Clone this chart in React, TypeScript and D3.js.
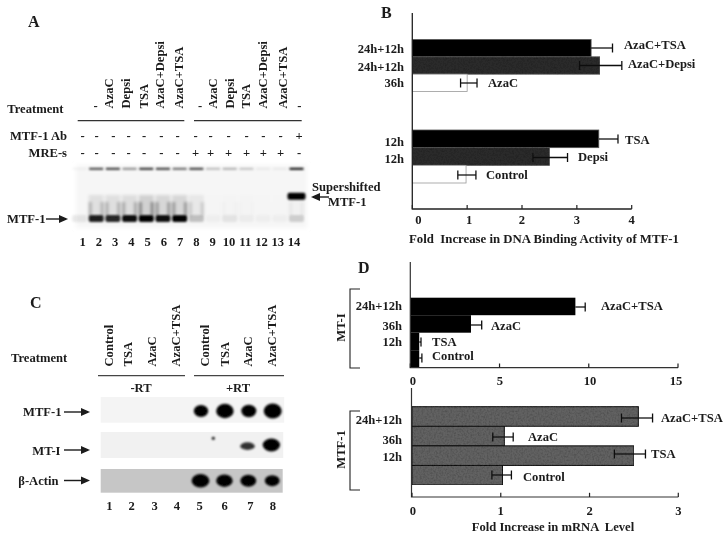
import React from "react";
import * as d3 from "d3";

// ---------- data ----------
const gelATreatments = ["-", "AzaC", "Depsi", "TSA", "AzaC+Depsi", "AzaC+TSA", "-", "AzaC", "Depsi", "TSA", "AzaC+Depsi", "AzaC+TSA", "-"];
const gelAAb = ["-", "-", "-", "-", "-", "-", "-", "-", "-", "-", "-", "-", "-", "+"];
const gelAMre = ["-", "-", "-", "-", "-", "-", "-", "+", "+", "+", "+", "+", "+", "-"];
const gelALanes = d3.range(1, 15);
const gelATopBand = [0.04, 0.75, 0.8, 0.45, 0.85, 0.8, 0.6, 0.8, 0.25, 0.3, 0.22, 0.06, 0.06, 1];
const gelAMainBand = [0.08, 0.88, 0.85, 0.95, 1, 0.95, 1, 0.22, 0.03, 0.08, 0.04, 0.03, 0.03, 0.16];
const gelASmear = [0, 0.3, 0.32, 0.34, 0.5, 0.42, 0.42, 0.2, 0.01, 0.03, 0.02, 0.01, 0.01, 0.06];
const gelASuper = [0, 0, 0, 0, 0, 0, 0, 0, 0, 0, 0, 0, 0, 1];

const gelCTreatments = ["Control", "TSA", "AzaC", "AzaC+TSA", "Control", "TSA", "AzaC", "AzaC+TSA"];
const gelCLanes = d3.range(1, 9);
const gelCMtf1 = [0, 0, 0, 0, 0.75, 1.05, 0.8, 1.1];
const gelCMt1 = [0, 0, 0, 0, 0, 0, 0.55, 1];
const gelCActin = [0, 0, 0, 0, 1.05, 0.95, 0.9, 0.82];

const panelBUpper = [
  { name: "AzaC+TSA", time: "24h+12h", v: 3.26, lo: 3.26, hi: 3.65 },
  { name: "AzaC+Depsi", time: "24h+12h", v: 3.42, lo: 3.05, hi: 3.82 },
  { name: "AzaC", time: "36h", v: 1.0, lo: 0.88, hi: 1.18 },
];
const panelBLower = [
  { name: "TSA", time: "12h", v: 3.4, lo: 3.4, hi: 3.75 },
  { name: "Depsi", time: "12h", v: 2.5, lo: 2.2, hi: 2.83 },
  { name: "Control", time: "", v: 0.98, lo: 0.83, hi: 1.16 },
];
const panelBTicks = [0, 1, 2, 3, 4];

const panelDTop = [
  { name: "AzaC+TSA", time: "24h+12h", v: 9.25, lo: 9.25, hi: 9.8 },
  { name: "AzaC", time: "36h", v: 3.4, lo: 3.4, hi: 4.0 },
  { name: "TSA", time: "12h", v: 0.5, lo: 0.5, hi: 0.6 },
  { name: "Control", time: "", v: 0.5, lo: 0.5, hi: 0.65 },
];
const panelDTopTicks = [0, 5, 10, 15];
const panelDBottom = [
  { name: "AzaC+TSA", time: "24h+12h", v: 2.55, lo: 2.36, hi: 2.71 },
  { name: "AzaC", time: "36h", v: 1.04, lo: 0.91, hi: 1.14 },
  { name: "TSA", time: "12h", v: 2.5, lo: 2.28, hi: 2.63 },
  { name: "Control", time: "", v: 1.02, lo: 0.9, hi: 1.12 },
];
const panelDBottomTicks = [0, 1, 2, 3];

// ---------- layout ----------
const FONT = "'Liberation Serif', 'Times New Roman', serif";
const INK = "#1a1a1a";

const T = ({ x, y, children, size = 12.6, anchor = "start", rotate, ...rest }: any) => (
  <text
    x={x}
    y={y}
    fontSize={size}
    fontWeight="bold"
    fontFamily={FONT}
    fill={INK}
    textAnchor={anchor}
    dominantBaseline="central"
    transform={rotate != null ? `rotate(${rotate} ${x} ${y})` : undefined}
    {...rest}
  >
    {children}
  </text>
);

const Arrow = ({ x1, x2, y }: any) => {
  const dir = x2 > x1 ? 1 : -1;
  return (
    <g>
      <line x1={x1} x2={x2 - dir * 6} y1={y} y2={y} stroke={INK} strokeWidth={1.4} />
      <path d={`M${x2},${y}L${x2 - dir * 9},${y - 4}L${x2 - dir * 9},${y + 4}Z`} fill={INK} />
    </g>
  );
};

const Rotated = ({ x, y, children }: any) => (
  <T x={x} y={y} rotate={-90} anchor="start">{children}</T>
);

function PanelA() {
  const lane = d3.scaleLinear().domain([1, 14]).range([82.7, 294]);
  const bandLane = d3.scaleLinear().domain([1, 14]).range([79.5, 296.5]);
  const signX = [82.7, 96.7, 113.3, 128.7, 144, 161.3, 177.7, 195.7, 210.7, 228.7, 246.7, 263.3, 280.7, 299];
  const headX = [95.7, 109.3, 126, 144, 160, 179, 200, 212.7, 230, 246, 262.7, 282.7, 299.3];
  return (
    <g>
      <T x={28} y={21} size={16}>A</T>
      {gelATreatments.map((t, i) =>
        t === "-" ? (
          <T key={i} x={headX[i]} y={106} anchor="middle">-</T>
        ) : (
          <Rotated key={i} x={headX[i]} y={108.5}>{t}</Rotated>
        )
      )}
      <T x={7.3} y={109}>Treatment</T>
      <line x1={77.7} x2={184.3} y1={120.7} y2={120.7} stroke="#333" strokeWidth={1.2} />
      <line x1={194} x2={301.7} y1={120.7} y2={120.7} stroke="#333" strokeWidth={1.2} />
      <T x={67} y={136} anchor="end">MTF-1 Ab</T>
      <T x={67} y={153} anchor="end">MRE-s</T>
      {gelAAb.map((s, i) => (
        <T key={i} x={signX[i]} y={136} anchor="middle">{s}</T>
      ))}
      {gelAMre.map((s, i) => (
        <T key={i} x={signX[i]} y={153} anchor="middle">{s}</T>
      ))}
      <rect x={76} y={165} width={231} height={63} fill="#f6f6f6" filter="url(#soft4)" />
      <g filter="url(#soft2)">
        {gelALanes.map((l, i) => {
          const c = bandLane(l);
          return (
            <g key={l} fill="#000">
              <rect x={c - 7.5} y={195} width={15} height={20} opacity={gelASmear[i] * 0.3} />
              <rect x={c - 7.5} y={202} width={3} height={14} opacity={gelASmear[i] * 0.75} />
              <rect x={c + 4.5} y={202} width={3} height={14} opacity={gelASmear[i] * 0.75} />
            </g>
          );
        })}
      </g>
      <g filter="url(#soft1)">
        {gelALanes.map((l, i) => {
          const c = bandLane(l);
          return (
            <g key={l} fill="#000">
              <rect x={c - 7} y={167.8} width={14} height={2} opacity={gelATopBand[i]} />
              <rect x={c - 7.5} y={215} width={15} height={7} rx={2} opacity={gelAMainBand[i]} />
              <rect x={c - 9} y={192.7} width={18} height={7} rx={2} opacity={gelASuper[i]} />
            </g>
          );
        })}
      </g>
      <T x={7} y={219}>MTF-1</T>
      <Arrow x1={46} x2={68} y={219} />
      <T x={312} y={187}>Supershifted</T>
      <T x={328} y={202}>MTF-1</T>
      <Arrow x1={329} x2={311} y={197} />
      {gelALanes.map((l) => (
        <T key={l} x={lane(l)} y={242} anchor="middle">{l}</T>
      ))}
    </g>
  );
}

function PanelC() {
  const lane = d3.scaleLinear().domain([5, 8]).range([201, 272.7]);
  const labelX = [109.3, 131.7, 154.7, 177, 199.7, 224.7, 250.3, 273];
  const headX = [109.3, 128.3, 152.3, 175.7, 205, 224.7, 248.3, 271.7];
  return (
    <g>
      <T x={30} y={302} size={16}>C</T>
      <T x={11} y={357.5}>Treatment</T>
      {gelCTreatments.map((t, i) => (
        <Rotated key={i} x={headX[i]} y={366.5}>{t}</Rotated>
      ))}
      <line x1={98} x2={185} y1={375.7} y2={375.7} stroke="#444" strokeWidth={1.2} />
      <line x1={194} x2={284} y1={375.7} y2={375.7} stroke="#444" strokeWidth={1.2} />
      <T x={141} y={388} anchor="middle">-RT</T>
      <T x={238} y={388} anchor="middle">+RT</T>
      <rect x={100.7} y={397} width={183.5} height={25.7} fill="#f4f4f4" />
      <rect x={100.7} y={432} width={182.5} height={26} fill="#f1f1f1" />
      <rect x={100.7} y={469} width={182} height={23.7} fill="#c6c6c6" />
      <g filter="url(#soft1)">
        {gelCLanes.map((l, i) =>
          gelCMtf1[i] > 0 ? (
            <ellipse key={l} cx={lane(l)} cy={411} rx={3.5 + 5 * gelCMtf1[i]} ry={3 + 4 * gelCMtf1[i]} fill="#000" />
          ) : null
        )}
        {gelCLanes.map((l, i) =>
          gelCMt1[i] > 0 ? (
            <ellipse key={l} cx={lane(l) - 1.3} cy={447.5 - 2.5 * gelCMt1[i]} rx={5.5 + 3.2 * gelCMt1[i]} ry={0.5 + 6 * gelCMt1[i]} fill="#000" opacity={0.55 + 0.45 * gelCMt1[i]} />
          ) : null
        )}
        {gelCLanes.map((l, i) =>
          gelCActin[i] > 0 ? (
            <ellipse key={l} cx={lane(l) - 0.5} cy={480.7} rx={2 + 6.6 * gelCActin[i]} ry={1 + 5.5 * gelCActin[i]} fill="#000" />
          ) : null
        )}
        <circle cx={213.3} cy={438.3} r={1.5} fill="#000" />
      </g>
      <T x={61.5} y={412} anchor="end">MTF-1</T>
      <Arrow x1={64} x2={90} y={412} />
      <T x={60.5} y={450.5} anchor="end">MT-I</T>
      <Arrow x1={64} x2={90} y={450} />
      <T x={58.5} y={480.5} anchor="end">β-Actin</T>
      <Arrow x1={64} x2={90} y={480.5} />
      {gelCLanes.map((l, i) => (
        <T key={l} x={labelX[i]} y={506} anchor="middle">{l}</T>
      ))}
    </g>
  );
}

const ErrBar = ({ x, d, y }: any) => (
  <g stroke="#111" strokeWidth={1.3} fill="none">
    <line x1={x(d.lo)} x2={x(d.hi)} y1={y} y2={y} />
    {d.lo !== d.v ? <line x1={x(d.lo)} x2={x(d.lo)} y1={y - 4.5} y2={y + 4.5} /> : null}
    <line x1={x(d.hi)} x2={x(d.hi)} y1={y - 4.5} y2={y + 4.5} />
  </g>
);

function PanelB() {
  const x = d3.scaleLinear().domain([0, 4]).range([412.3, 631.7]);
  const yU = d3.scaleBand().domain(panelBUpper.map((d) => d.name)).range([39.5, 91.5]);
  const yL = d3.scaleBand().domain(panelBLower.map((d) => d.name)).range([130, 183]);
  const fills = ["#000", "#2b2b2b", "#fff"];
  const strokes = ["#555", "#555", "#999"];
  const timeYU = [49, 67, 83];
  const timeYL = [142, 159];
  const labelPosU = [[624, 45], [628, 64], [488, 83]];
  const labelPosL = [[625, 140], [578, 157], [486, 175]];
  const errYU = [48, 65.5, 83];
  const errYL = [139, 157.5, 175];
  const tickOffset = [6, 2, 0, 0, 0];
  return (
    <g>
      <T x={381} y={12} size={16}>B</T>
      {[{ rows: panelBUpper, y: yU, ty: timeYU, lp: labelPosU, ey: errYU }, { rows: panelBLower, y: yL, ty: timeYL, lp: labelPosL, ey: errYL }].map((g, gi) => (
        <g key={gi}>
          {g.rows.map((d, i) => (
            <g key={d.name}>
              <rect x={x(0)} y={g.y(d.name)} width={x(d.v) - x(0)} height={g.y.bandwidth()} fill={fills[i]} stroke={strokes[i]} strokeWidth={0.8} filter={i === 1 ? "url(#grain)" : undefined} />
              <ErrBar x={x} d={d} y={g.ey[i]} />
              {d.time ? <T x={404} y={g.ty[i]} anchor="end">{d.time}</T> : null}
              <T x={g.lp[i][0]} y={g.lp[i][1]}>{d.name}</T>
            </g>
          ))}
        </g>
      ))}
      <path d={`M412.3,13V209H${x(4)}`} fill="none" stroke="#222" strokeWidth={1.3} />
      {panelBTicks.map((t, i) => (
        <g key={t}>
          <line x1={x(t)} x2={x(t)} y1={209} y2={205} stroke="#222" strokeWidth={1.2} />
          <T x={x(t) + tickOffset[i]} y={220} anchor="middle">{t}</T>
        </g>
      ))}
      <T x={544} y={239} anchor="middle" size={12.8} xmlSpace="preserve">Fold  Increase in DNA Binding Activity of MTF-1</T>
    </g>
  );
}

function Bracket({ y1, y2, label }: any) {
  return (
    <g>
      <path d={`M360,${y1}H350V${y2}H360`} fill="none" stroke="#222" strokeWidth={1.1} />
      <T x={341} y={(y1 + y2) / 2 - 1} rotate={-90} anchor="middle">{label}</T>
    </g>
  );
}

function PanelD() {
  const xT = d3.scaleLinear().domain([0, 15]).range([410.3, 678]);
  const yT = d3.scaleBand().domain(panelDTop.map((d) => d.name)).range([297.7, 367.7]);
  const xB = d3.scaleLinear().domain([0, 3]).range([412, 678.3]);
  const yB = d3.scaleBand().domain(panelDBottom.map((d) => d.name)).range([406.7, 485]);
  const topTimeY = [306, 326, 342];
  const topLabel = [[601, 306], [491, 326], [432, 342], [432, 356]];
  const topErrY = [307, 325, 342, 358];
  const topTickX = [413, 500, 590, 676];
  const botTimeY = [420, 440, 457];
  const botLabel = [[661, 418], [528, 437], [651, 454], [523, 477]];
  const botErrY = [418, 437, 454, 475];
  return (
    <g>
      <T x={358} y={267} size={16}>D</T>
      <Bracket y1={289} y2={368} label="MT-I" />
      {panelDTop.map((d, i) => (
        <g key={d.name}>
          <rect x={xT(0)} y={yT(d.name)} width={xT(d.v) - xT(0)} height={yT.bandwidth()} fill="#000" />
          <ErrBar x={xT} d={d} y={topErrY[i]} />
          {d.time ? <T x={402} y={topTimeY[i]} anchor="end">{d.time}</T> : null}
          <T x={topLabel[i][0]} y={topLabel[i][1]}>{d.name}</T>
        </g>
      ))}
      <path d={`M410.3,262V367.7H${xT(15)}`} fill="none" stroke="#333" strokeWidth={1.2} />
      {panelDTopTicks.map((t, i) => (
        <g key={t}>
          <line x1={xT(t)} x2={xT(t)} y1={367.7} y2={363.5} stroke="#222" strokeWidth={1.2} />
          <T x={topTickX[i]} y={381} anchor="middle">{t}</T>
        </g>
      ))}
      <Bracket y1={411} y2={490} label="MTF-1" />
      {panelDBottom.map((d, i) => (
        <g key={d.name}>
          <rect x={xB(0)} y={yB(d.name)} width={xB(d.v) - xB(0)} height={yB.bandwidth()} fill="#626262" stroke="#111" strokeWidth={1} filter="url(#grain)" />
          <ErrBar x={xB} d={d} y={botErrY[i]} />
          {d.time ? <T x={402} y={botTimeY[i]} anchor="end">{d.time}</T> : null}
          <T x={botLabel[i][0]} y={botLabel[i][1]}>{d.name}</T>
        </g>
      ))}
      <path d={`M411.5,388V497H${xB(3)}`} fill="none" stroke="#333" strokeWidth={1.2} />
      {panelDBottomTicks.map((t) => (
        <g key={t}>
          <line x1={xB(t)} x2={xB(t)} y1={497} y2={492.8} stroke="#222" strokeWidth={1.2} />
          <T x={xB(t) + (t === 0 ? 1 : 0)} y={511} anchor="middle">{t}</T>
        </g>
      ))}
      <T x={553} y={527} anchor="middle" xmlSpace="preserve">Fold Increase in mRNA  Level</T>
    </g>
  );
}

export default function App() {
  return (
    <svg width={727} height={538} style={{ position: "absolute", left: 0, top: 0, background: "#fff" }}>
      <defs>
        <filter id="soft1" x="-10%" y="-10%" width="120%" height="120%"><feGaussianBlur stdDeviation="1.1" /></filter>
        <filter id="soft2" x="-10%" y="-10%" width="120%" height="120%"><feGaussianBlur stdDeviation="1.8" /></filter>
        <filter id="soft4" x="-5%" y="-20%" width="110%" height="140%"><feGaussianBlur stdDeviation="2" /></filter>
        <filter id="all" x="0" y="0" width="100%" height="100%"><feGaussianBlur stdDeviation="0.35" /></filter>
        <filter id="grain" x="0" y="0" width="100%" height="100%">
          <feTurbulence type="fractalNoise" baseFrequency="0.55" numOctaves={2} seed={3} result="n" />
          <feColorMatrix in="n" type="matrix" values="0 0 0 0 0  0 0 0 0 0  0 0 0 0 0  0.7 0 0 0 -0.25" result="d" />
          <feComposite in="d" in2="SourceGraphic" operator="atop" />
        </filter>
      </defs>
      <g filter="url(#all)">
        <PanelA />
        <PanelB />
        <PanelC />
        <PanelD />
      </g>
    </svg>
  );
}
